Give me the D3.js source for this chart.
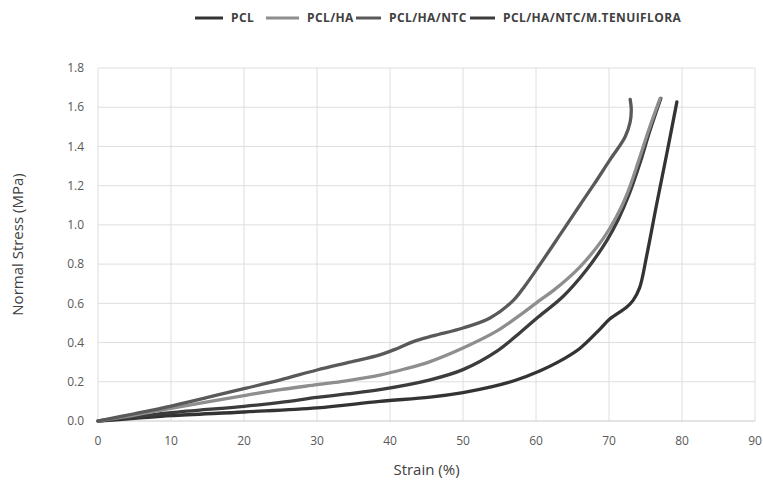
<!DOCTYPE html>
<html>
<head>
<meta charset="utf-8">
<script src="https://cdn.jsdelivr.net/npm/d3@7"></script>
<style>
  body { margin: 0; background: #fff; }
  text { font-family: "Open Sans", "Liberation Sans", sans-serif; }
</style>
</head>
<body>
<script>
// Series (strain %, stress MPa)
const seriesNames = ["PCL", "PCL/HA", "PCL/HA/NTC", "PCL/HA/NTC/M.TENUIFLORA"];
const seriesColors = ["#333333", "#8e8e8e", "#595959", "#3c3c3c"];

const pclStrain = [0, 5, 10, 20, 30, 38.6, 45.5, 50, 54, 57, 60.5, 63, 66, 68.8, 70.1, 72.4, 73.3, 74.2, 75.2, 76.5, 77.9, 79.3];
const pclStress = [0, 0.013, 0.027, 0.046, 0.067, 0.1, 0.122, 0.145, 0.175, 0.205, 0.255, 0.3, 0.37, 0.47, 0.52, 0.58, 0.615, 0.68, 0.85, 1.1, 1.36, 1.627];

const haStrain = [0, 5, 10, 15, 20, 25, 30, 34, 38.6, 42, 45.5, 50, 54.6, 57.8, 60.5, 62.4, 66, 69.2, 71, 72.5, 74, 75.5, 77];
const haStress = [0, 0.03, 0.065, 0.098, 0.13, 0.16, 0.185, 0.205, 0.234, 0.265, 0.303, 0.372, 0.458, 0.54, 0.615, 0.666, 0.785, 0.93, 1.04, 1.16, 1.32, 1.49, 1.645];

const ntcStrain = [0, 5, 10, 15, 20, 25, 30, 34.5, 38.6, 41, 43.2, 46, 50, 53.7, 56.9, 58.5, 60.3, 63.3, 66, 68, 70.1, 72.2, 72.9, 73.05, 72.9];
const ntcStress = [0, 0.037, 0.076, 0.12, 0.165, 0.21, 0.26, 0.3, 0.337, 0.37, 0.405, 0.435, 0.474, 0.525, 0.615, 0.69, 0.785, 0.95, 1.1, 1.21, 1.33, 1.448, 1.525, 1.59, 1.64];

const mtStrain = [0, 5, 10, 20, 25, 30, 34, 38.6, 45.5, 50, 54.6, 57.8, 60.3, 63.7, 66.9, 69.7, 71.3, 72.8, 74.2, 75.6, 77.1];
const mtStress = [0, 0.02, 0.042, 0.075, 0.095, 0.12, 0.138, 0.16, 0.21, 0.262, 0.355, 0.45, 0.53, 0.635, 0.77, 0.92, 1.03, 1.16, 1.31, 1.48, 1.645];

const xTicks = [0, 10, 20, 30, 40, 50, 60, 70, 80, 90];
const yTicks = [0, 0.2, 0.4, 0.6, 0.8, 1.0, 1.2, 1.4, 1.6, 1.8];

const seriesData = [
  d3.zip(pclStrain, pclStress),
  d3.zip(haStrain, haStress),
  d3.zip(ntcStrain, ntcStress),
  d3.zip(mtStrain, mtStress)
];

const width = 763, height = 482;
const margin = {top: 68, right: 8, bottom: 61, left: 98};

const svg = d3.select("body").append("svg")
    .attr("width", width)
    .attr("height", height);

const x = d3.scaleLinear().domain([0, 90]).range([margin.left, width - margin.right]);
const y = d3.scaleLinear().domain([0, 1.8]).range([height - margin.bottom, margin.top]);

// grid
svg.append("g").selectAll("line")
  .data(xTicks).enter().append("line")
  .attr("x1", d => x(d)).attr("x2", d => x(d))
  .attr("y1", y(0)).attr("y2", y(1.8))
  .attr("stroke", "#dedede").attr("stroke-width", 1);

svg.append("g").selectAll("line")
  .data(yTicks).enter().append("line")
  .attr("x1", x(0)).attr("x2", x(90))
  .attr("y1", d => y(d)).attr("y2", d => y(d))
  .attr("stroke", d => d === 0 ? "#c8c8c8" : "#dedede").attr("stroke-width", 1);

// tick labels
svg.append("g").selectAll("text")
  .data(xTicks).enter().append("text")
  .attr("x", d => x(d)).attr("y", y(0) + 24)
  .attr("text-anchor", "middle")
  .attr("font-size", 12).attr("fill", "#595959")
  .text(d => d);

svg.append("g").selectAll("text")
  .data(yTicks).enter().append("text")
  .attr("x", x(0) - 14).attr("y", d => y(d)).attr("dy", "0.35em")
  .attr("text-anchor", "end")
  .attr("font-size", 12).attr("fill", "#595959")
  .text(d => d3.format(".1f")(d));

// axis titles
svg.append("text")
  .attr("x", (x(0) + x(90)) / 2).attr("y", 475)
  .attr("text-anchor", "middle")
  .attr("font-size", 15).attr("fill", "#404040")
  .text("Strain (%)");

svg.append("text")
  .attr("transform", `translate(23,${(y(0) + y(1.8)) / 2}) rotate(-90)`)
  .attr("text-anchor", "middle")
  .attr("font-size", 15).attr("fill", "#404040")
  .text("Normal Stress (MPa)");

// curves
const line = d3.line()
  .x(d => x(d[0]))
  .y(d => y(d[1]))
  .curve(d3.curveCatmullRom.alpha(0.5));

const drawOrder = [0, 3, 1, 2];
svg.append("g").selectAll("path")
  .data(drawOrder).enter().append("path")
  .attr("d", i => line(seriesData[i]))
  .attr("fill", "none")
  .attr("stroke", i => seriesColors[i])
  .attr("stroke-width", 3.3)
  .attr("stroke-linecap", "round")
  .attr("stroke-linejoin", "round");

// legend
const legendX = [195, 266, 356, 470];
const legendLen = [28, 33, 25, 25];
const leg = svg.append("g").selectAll("g")
  .data(seriesNames).enter().append("g")
  .attr("transform", (d, i) => `translate(${legendX[i]},18)`);

leg.append("line")
  .attr("x1", 0).attr("x2", (d, i) => legendLen[i])
  .attr("stroke", (d, i) => seriesColors[i])
  .attr("stroke-width", 3);

leg.append("text")
  .attr("x", (d, i) => legendLen[i] + 8).attr("dy", "0.35em")
  .attr("font-size", 12).attr("letter-spacing", 0.4)
  .attr("font-weight", "bold").attr("fill", "#404040")
  .text(d => d);
</script>
</body>
</html>
